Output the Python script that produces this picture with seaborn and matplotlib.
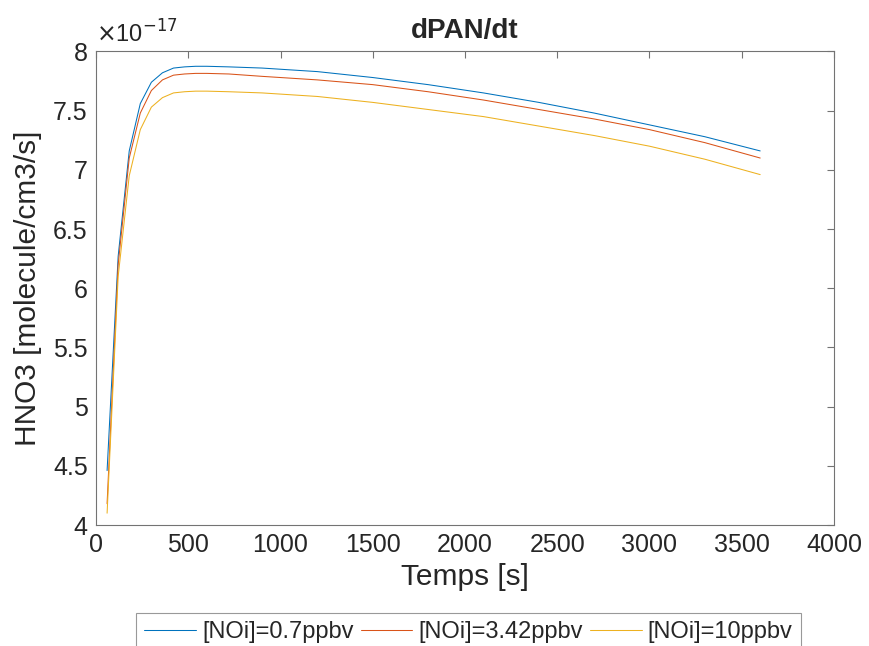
import matplotlib
matplotlib.use("Agg")
import matplotlib.pyplot as plt
import seaborn as sns
import pandas as pd

# time steps [s] and rates (units of 1e-17 molecule/cm3/s)
temps = [60, 120, 180, 240, 300, 360, 420, 480, 540, 600, 720, 900, 1200,
         1500, 1800, 2100, 2400, 2700, 3000, 3300, 3600]
no_07 = [4.46, 6.27, 7.16, 7.56, 7.74, 7.82, 7.86, 7.87, 7.875, 7.875, 7.87, 7.86, 7.83,
         7.78, 7.72, 7.65, 7.57, 7.48, 7.38, 7.28, 7.16]
no_342 = [4.18, 6.20, 7.10, 7.48, 7.67, 7.76, 7.80, 7.81, 7.815, 7.815, 7.81, 7.79, 7.76,
          7.72, 7.66, 7.59, 7.51, 7.43, 7.34, 7.23, 7.10]
no_10 = [4.10, 6.10, 6.95, 7.34, 7.53, 7.61, 7.65, 7.66, 7.665, 7.665, 7.66, 7.65, 7.62,
         7.57, 7.51, 7.45, 7.37, 7.29, 7.20, 7.09, 6.96]
labels = ["[NOi]=0.7ppbv", "[NOi]=3.42ppbv", "[NOi]=10ppbv"]
colors = ["#0072BD", "#D95319", "#EDB120"]

df = pd.DataFrame({
    "t": temps * 3,
    "v": no_07 + no_342 + no_10,
    "serie": [labels[0]] * len(temps) + [labels[1]] * len(temps) + [labels[2]] * len(temps),
})

sns.set_style("white")
plt.rcParams['font.family'] = ['Liberation Sans', 'DejaVu Sans']

fig = plt.figure(figsize=(8.69, 6.46), dpi=100)
ax = fig.add_axes([0.1105, 0.1873, 0.8492, 0.733])

sns.lineplot(data=df, x="t", y="v", hue="serie", palette=colors, linewidth=0.75, ax=ax)

ax.set_xlim(0, 4000)
ax.set_ylim(4, 8)
ax.set_xticks(range(0, 4001, 500))
ax.set_yticks([4, 4.5, 5, 5.5, 6, 6.5, 7, 7.5, 8])
ax.set_yticklabels(["4", "4.5", "5", "5.5", "6", "6.5", "7", "7.5", "8"])
ax.tick_params(direction="in", top=True, right=True, labelsize=18, length=5,
               color="0.45", width=0.8, pad=6)
for s in ax.spines.values():
    s.set_color("0.45")
    s.set_linewidth(0.8)

ax.set_xlabel("Temps [s]", fontsize=21.5, labelpad=4)
ax.set_ylabel("HNO3 [molecule/cm3/s]", fontsize=21.5, labelpad=8)
ax.set_title("dPAN/dt", fontsize=20, fontweight="bold", pad=10)
ax.text(0.0, 1.008, r"$\times$10$^{-17}$", transform=ax.transAxes, fontsize=17,
        ha="left", va="bottom")

handles, labs = ax.get_legend_handles_labels()
ax.get_legend().remove()
leg = fig.legend(handles, labs, loc="center", bbox_to_anchor=(0.539, 0.022), ncol=3,
                 fontsize=17, frameon=True, fancybox=False, handlelength=2.2,
                 handletextpad=0.25, columnspacing=0.3, borderpad=0.35)
leg.get_frame().set_edgecolor("0.5")
leg.get_frame().set_linewidth(0.8)

fig.savefig("out.png", dpi=100)
